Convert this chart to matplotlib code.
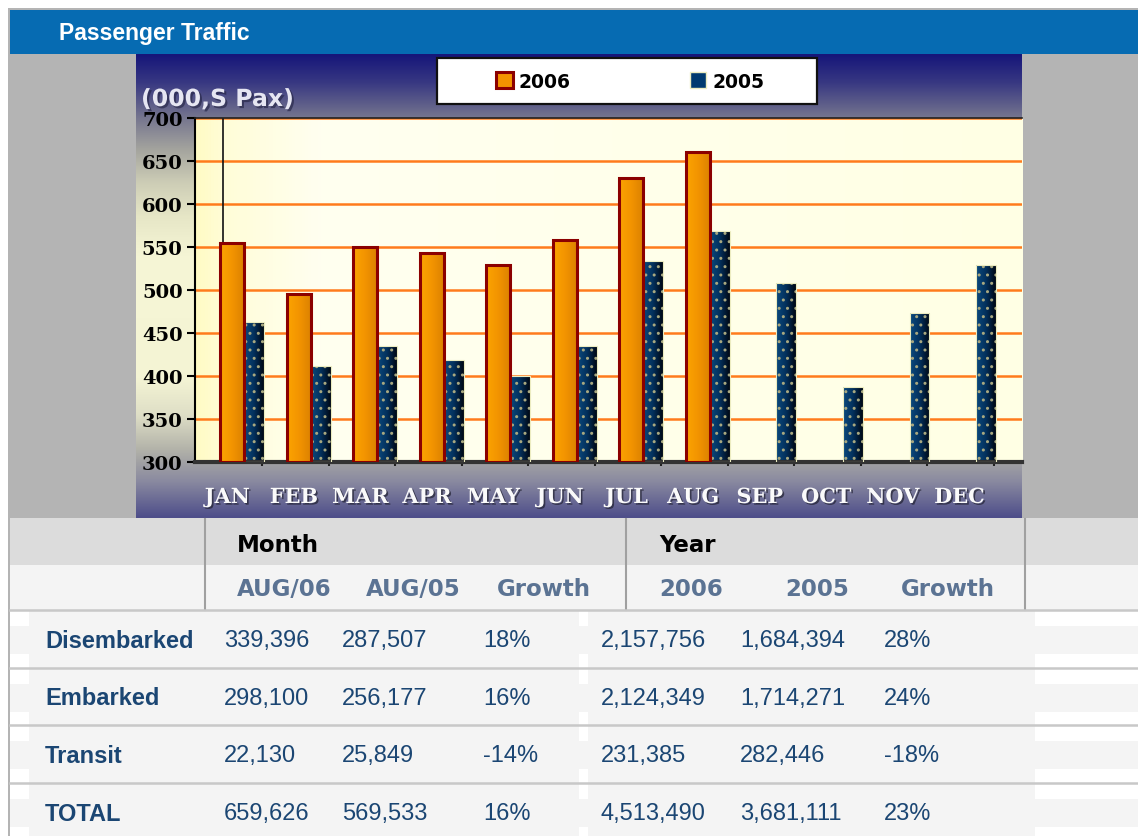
import numpy as np
import matplotlib.pyplot as plt
from matplotlib.patches import Rectangle, Patch
from matplotlib.colors import LinearSegmentedColormap
import matplotlib.patheffects as pe

W, H = 1138, 837

# chart data (thousands of passengers)
months = ['JAN', 'FEB', 'MAR', 'APR', 'MAY', 'JUN',
          'JUL', 'AUG', 'SEP', 'OCT', 'NOV', 'DEC']
pax_2006 = [555, 495, 550, 543, 529, 558, 630, 661]
pax_2005 = [463, 412, 435, 419, 400, 435, 534, 569, 508, 387, 473, 529]
series = ['2006', '2005']
y_ticks = [300, 350, 400, 450, 500, 550, 600, 650, 700]

# table data
group_heads = ['Month', 'Year']
col_heads = ['AUG/06', 'AUG/05', 'Growth', '2006', '2005', 'Growth']
row_names = ['Disembarked', 'Embarked', 'Transit', 'TOTAL']
aug06 = ['339,396', '298,100', '22,130', '659,626']
aug05 = ['287,507', '256,177', '25,849', '569,533']
month_growth = ['18%', '16%', '-14%', '16%']
year06 = ['2,157,756', '2,124,349', '231,385', '4,513,490']
year05 = ['1,684,394', '1,714,271', '282,446', '3,681,111']
year_growth = ['28%', '24%', '-18%', '23%']

fig = plt.figure(figsize=(W / 100, H / 100), dpi=100)
fig.patch.set_facecolor('white')

# page layer in pixel coords
bg = fig.add_axes([0, 0, 1, 1])
bg.axis('off')


def box(x0, y0, x1, y1, c, **kw):
    bg.add_patch(Rectangle((x0, y0), x1 - x0, y1 - y0, fc=c, ec='none', **kw))


box(8, 9, W, H, '#b4b4b4')
box(10, 11, W, 55, '#066bb2')
bg.text(59, 33, 'Passenger Traffic', color='white', fontsize=16.5,
        family='Liberation Sans', weight='bold', va='center')

# chart panel gradient
panel_cm = LinearSegmentedColormap.from_list('panel', [
    (0.0, '#16167a'), (0.06, '#383882'), (0.134, '#74748e'),
    (0.205, '#a4a49e'), (0.276, '#cdcdb6'), (0.349, '#e6e6c6'),
    (0.44, '#f6f6d6'), (0.70, '#f4f4d4'), (0.78, '#dedec6'),
    (0.851, '#b4b4aa'), (0.88, '#a2a2a4'), (0.922, '#8a8aa0'),
    (1.0, '#4e4e8a')])
bg.imshow(np.linspace(0, 1, 256).reshape(-1, 1), extent=(136, 1022, 519, 55),
          cmap=panel_cm, aspect='auto', interpolation='bilinear', zorder=1)

# legend frame
box(437, 59, 817, 105, 'white', zorder=5)
bg.add_patch(Rectangle((437, 59), 380, 46, fc='none', ec='#111111', lw=1.6, zorder=6))

bg.text(141, 100, '(000,S Pax)', color='#e6e6f2', fontsize=17, weight='bold',
        va='center', zorder=7,
        path_effects=[pe.withSimplePatchShadow(offset=(1.5, -1.5), shadow_rgbFace='#202040', alpha=0.6)])

# table
box(10, 519, W, H, 'white')
box(10, 519, W, 566, '#dcdcdc')
box(10, 566, W, 611, '#f4f4f4')
for xv in [205, 626, 1025]:
    bg.plot([xv, xv], [520, 611], color='#a0a0a0', lw=1.5)

head_font = dict(family='DejaVu Sans', weight='bold', fontsize=16.5, va='center')
bg.text(237, 545, group_heads[0], color='black', **head_font)
bg.text(659, 545, group_heads[1], color='black', **head_font)
col_x = [237, 366, 497, 659, 785, 901]
for cx, lab in zip(col_x, col_heads):
    bg.text(cx, 590, lab, color='#5b7393', **head_font)

row_h = 57.7
num_x = [224, 342, 483, 601, 740, 884]
num_cols = [aug06, aug05, month_growth, year06, year05, year_growth]
navy_txt = '#1b4673'
for k, name in enumerate(row_names):
    t = 611 + k * row_h
    box(29, t, 579, t + row_h, '#f4f4f4')
    box(588, t, 1035, t + row_h, '#f4f4f4')
    box(10, t + 16, W, t + 44, '#f4f4f4')
    bg.plot([10, W], [t, t], color='#c8c8c8', lw=1.8)
    bg.text(45, t + 30, name, color=navy_txt, fontsize=17, family='Liberation Sans',
            weight='bold', va='center')
    for cx, col in zip(num_x, num_cols):
        bg.text(cx, t + 30, col[k], color=navy_txt, fontsize=17,
                family='Liberation Sans', va='center')

bg.set_xlim(0, W)
bg.set_ylim(H, 0)

# bar chart
x0_lim, x1_lim = -0.736, 11.69
ax = fig.add_axes([195 / W, 1 - 463 / H, (1022 - 195) / W, (463 - 119) / H])
ax.patch.set_visible(False)

plot_cm = LinearSegmentedColormap.from_list('plotbg', [
    (0.0, '#fffbc4'), (0.035, '#fffdd8'), (0.15, '#fffff0'), (1.0, '#ffffe4')])
ax.imshow(np.linspace(0, 1, 256).reshape(1, -1), cmap=plot_cm,
          extent=(x0_lim, x1_lim, 300, 700), aspect='auto', zorder=0)

x = np.arange(len(months))
h05 = np.subtract(pax_2005, 300)
h06 = np.subtract(pax_2006, 300)
# dotted fill (hatch colour follows edge colour, so outline is a second pass)
b05 = ax.bar(x + 0.15, h05, 0.30, bottom=300, fc='none', ec='#a8a880',
             lw=0, hatch='..', zorder=3)
ax.bar(x + 0.15, h05, 0.30, bottom=300, fc='none', ec='#ececc0', lw=0.8, zorder=3.1)
b06 = ax.bar(x[:len(pax_2006)] - 0.18, h06, 0.36, bottom=300,
             fc='none', ec='#8b0000', lw=2.2, zorder=3.5)

org_cm = LinearSegmentedColormap.from_list('org', ['#fca400', '#f39400', '#dc8200'])
nav_cm = LinearSegmentedColormap.from_list('nav', ['#0b4a7e', '#03305c', '#000814'])


def fill_gradient(patch, cmap, z):
    px, py = patch.get_xy()
    im = ax.imshow(np.linspace(0, 1, 64).reshape(1, -1), cmap=cmap,
                   extent=(px, px + patch.get_width(), py, py + patch.get_height()),
                   aspect='auto', interpolation='bilinear', zorder=z)
    im.set_clip_path(patch)


for p in b05:
    fill_gradient(p, nav_cm, 2)
for p in b06:
    fill_gradient(p, org_cm, 3.2)

# stray drop line above the JAN bar
ax.vlines(x[0] - 0.32, pax_2006[0], 700, color='#111111', lw=1.2, zorder=1.5)

ax.set_xlim(x0_lim, x1_lim)
ax.set_ylim(300, 700)
ax.set_yticks(y_ticks)
ax.grid(axis='y', color='#ff7b1c', lw=1.8)
ax.set_axisbelow(True)

ax.tick_params(axis='y', length=6, width=1.5, color='black', pad=3)
for lab in ax.get_yticklabels():
    lab.set_family('DejaVu Serif')
    lab.set_weight('bold')
    lab.set_fontsize(14)

ax.set_xticks(x - 0.25, months)
ax.set_xticks(x + 0.27, minor=True)
ax.tick_params(axis='x', which='major', length=0, pad=18)
ax.tick_params(axis='x', which='minor', length=3, width=1.5, color='#222222')
for lab in ax.get_xticklabels():
    lab.set_family('DejaVu Serif')
    lab.set_weight('bold')
    lab.set_fontsize(15)
    lab.set_color('#fafafa')
    lab.set_path_effects([pe.withSimplePatchShadow(offset=(1.2, -1.2),
                                                    shadow_rgbFace='#202030', alpha=0.7)])

ax.spines['right'].set_visible(False)
ax.spines['left'].set_color('black')
ax.spines['left'].set_linewidth(1.5)
ax.spines['bottom'].set_color('#333333')
ax.spines['bottom'].set_linewidth(3)
ax.spines['top'].set_color('#222222')
ax.spines['top'].set_linewidth(1.2)

handles = [Patch(fc='#f39400', ec='#8b0000', lw=2.2),
           Patch(fc='#003a70', ec='#ececc0', lw=1)]
leg = ax.legend(handles, series, ncol=2, frameon=False, loc='center',
                bbox_to_anchor=(630 / W, 1 - 82 / H), bbox_transform=fig.transFigure,
                handlelength=0.9, handleheight=0.9, handletextpad=0.3, columnspacing=6.35,
                prop=dict(family='DejaVu Sans', weight='bold', size=13.5))

fig.savefig('out.png', dpi=100)
